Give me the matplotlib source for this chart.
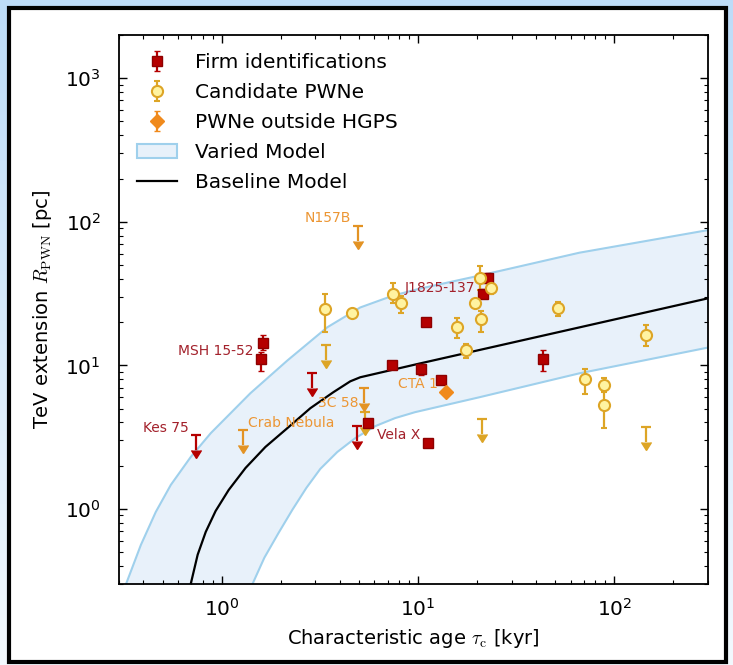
#!/usr/bin/env python3
"""TeV extension of PWNe vs characteristic age, with model band."""

import numpy as np
import matplotlib.pyplot as plt
import matplotlib.lines as mlines
from matplotlib.colors import LinearSegmentedColormap
from matplotlib.patches import Patch, Rectangle

# ---- Data ----
# Firm identifications: age [kyr], radius [pc], lower / upper end of error bar
firm_age = [1.58, 1.63, 5.57, 7.38, 10.4, 11.0, 11.2, 13.1, 21.4, 22.7, 43.1]
firm_r = [11.0, 14.2, 3.96, 10.0, 9.5, 20.2, 2.87, 7.87, 31.6, 40.8, 11.0]
firm_lo = [9.1, 12.7, 3.7, 9.5, 8.5, 19.0, 2.7, 7.4, 29.5, 37.5, 9.2]
firm_hi = [12.3, 16.2, 4.2, 10.6, 10.3, 21.5, 3.05, 8.4, 34.0, 44.0, 12.7]
firm_ul_age = [0.738, 2.90, 4.90]
firm_ul_r = [3.26, 8.8, 3.77]

# Candidate PWNe
cand_age = [3.37, 4.62, 7.46, 8.2, 15.8, 17.5, 19.5, 20.6, 20.9, 23.5, 51.4, 70.5, 89.0, 89.0, 145.0]
cand_r = [24.5, 23.0, 31.6, 27.4, 18.4, 12.7, 27.0, 40.8, 20.9, 34.8, 24.9, 8.0, 7.26, 5.27, 16.4]
cand_lo = [17.0, 22.0, 27.4, 23.3, 15.6, 11.2, 26.0, 33.7, 17.0, 31.5, 21.9, 6.3, 6.5, 3.65, 13.6]
cand_hi = [31.6, 24.0, 37.2, 30.6, 21.2, 14.0, 28.0, 49.3, 24.0, 38.0, 27.8, 9.5, 8.1, 7.0, 19.2]
cand_ul_age = [3.41, 5.38, 21.1, 145.0]
cand_ul_r = [13.8, 4.72, 4.22, 3.71]

# PWNe outside HGPS
out_age = [13.9]
out_r = [6.49]
out_lo = [6.2]
out_hi = [6.8]
out_ul_age = [4.96, 1.28, 5.32]
out_ul_r = [93.8, 3.54, 6.92]

# Model curves
base_age = [0.696, 0.755, 0.830, 0.932, 1.086, 1.324, 1.67, 2.16, 2.83, 3.70, 4.52, 5.08, 10.2, 300.0]
base_r = [0.30, 0.480, 0.692, 0.968, 1.355, 1.93, 2.70, 3.65, 5.03, 6.49, 7.74, 8.26, 10.3, 29.3]
up_age = [0.326, 0.388, 0.462, 0.551, 0.696, 0.880, 1.11, 1.40, 2.16, 3.45, 5.08, 7.46, 10.2, 20.6, 66.4, 300.0]
up_r = [0.30, 0.562, 0.953, 1.47, 2.30, 3.37, 4.64, 6.39, 10.8, 18.4, 25.3, 30.6, 34.2, 42.2, 60.9, 87.5]
low_age = [1.436, 1.65, 1.95, 2.29, 2.70, 3.18, 3.88, 4.79, 6.05, 7.64, 9.66, 20.6, 66.4, 300.0]
low_r = [0.30, 0.457, 0.681, 0.984, 1.40, 1.90, 2.49, 3.11, 3.77, 4.29, 4.72, 6.0, 8.8, 13.3]

# Source labels
labels = ["N157B", "J1825-137", "MSH 15-52", "CTA 1", "3C 58", "Crab Nebula", "Kes 75", "Vela X"]
label_age = [4.57, 8.59, 1.45, 7.91, 4.96, 1.37, 0.68, 6.19]
label_r = [106.0, 34.8, 12.5, 7.38, 5.45, 3.96, 3.65, 3.26]
label_ha = ["right", "left", "right", "left", "right", "left", "right", "left"]
label_firm = [False, True, True, False, False, False, True, True]

# ---- Style ----
plt.rcParams["mathtext.fontset"] = "cm"
c_firm = "#b50000"
c_firm_edge = "#8e0000"
c_firm_txt = "#a3212b"
c_cand_face = "#fff3a1"
c_cand = "#dda526"
c_out = "#f08a1c"
c_out_ul = "#e39324"
c_out_txt = "#ec9634"
c_band = "#e8f1fa"
c_band_edge = "#9fd0ec"

fig = plt.figure(figsize=(7.33, 6.65), dpi=100)

# screenshot-like background and frame
bg = fig.add_axes([0, 0, 1, 1], zorder=0)
bg.axis("off")
grad = np.linspace(0, 1, 256).reshape(-1, 1)
cmap_bg = LinearSegmentedColormap.from_list("bgc", ["#bddcf8", "#f3f9fe"])
bg.imshow(grad, cmap=cmap_bg, aspect="auto", extent=[0, 1, 0, 1], origin="upper")
bg.add_patch(Rectangle((0.012, 0.005), 0.979, 0.983, transform=bg.transAxes,
                       facecolor="white", edgecolor="black", lw=3))
bg.set_xlim(0, 1)
bg.set_ylim(0, 1)

ax = fig.add_axes([0.1623, 0.1218, 0.8036, 0.8256], zorder=1)
ax.set_xscale("log")
ax.set_yscale("log")

# model band
ax.fill(np.concatenate([up_age, low_age[::-1]]), np.concatenate([up_r, low_r[::-1]]),
        facecolor=c_band, edgecolor="none", zorder=1)
ax.plot(up_age, up_r, color=c_band_edge, lw=1.5, zorder=2)
ax.plot(low_age, low_r, color=c_band_edge, lw=1.5, zorder=2)
ax.plot(base_age, base_r, color="black", lw=1.6, zorder=3)


def yerr(y, lo, hi):
    y, lo, hi = map(np.asarray, (y, lo, hi))
    return [y - lo, hi - y]


def upper_limits(x, y, color):
    # vertical bar with a cap at the limit and a down arrow below it
    y = np.asarray(y)
    tip = y / 1.27
    ax.vlines(x, tip, y, color=color, lw=1.6, zorder=4)
    ax.plot(x, y, ls="none", marker="_", ms=7, mew=1.6, color=color, zorder=4)
    ax.plot(x, tip, ls="none", marker=mlines.CARETDOWNBASE, ms=7.5,
            mfc=color, mec=color, zorder=4)


upper_limits(firm_ul_age, firm_ul_r, c_firm)
upper_limits(cand_ul_age, cand_ul_r, c_cand)
upper_limits(out_ul_age, out_ul_r, c_out_ul)

h_firm = ax.errorbar(firm_age, firm_r, yerr=yerr(firm_r, firm_lo, firm_hi), fmt="s",
                     ms=7, mfc=c_firm, mec=c_firm_edge, mew=1, ecolor=c_firm,
                     elinewidth=1.6, capsize=2.2, capthick=1.6, zorder=5)
h_cand = ax.errorbar(cand_age, cand_r, yerr=yerr(cand_r, cand_lo, cand_hi), fmt="o",
                     ms=8, mfc=c_cand_face, mec=c_cand, mew=1.5, ecolor=c_cand,
                     elinewidth=1.6, capsize=2.2, capthick=1.6, zorder=5)
h_out = ax.errorbar(out_age, out_r, yerr=yerr(out_r, out_lo, out_hi), fmt="D",
                    ms=7, mfc=c_out, mec=c_out, mew=1, ecolor=c_out,
                    elinewidth=1.6, capsize=2.2, capthick=1.6, zorder=5)

for txt, lx, ly, ha, firm in zip(labels, label_age, label_r, label_ha, label_firm):
    ax.text(lx, ly, txt, ha=ha, va="center", fontsize=10,
            color=c_firm_txt if firm else c_out_txt, zorder=6)

ax.set_xlim(0.3, 300)
ax.set_ylim(0.3, 2000)

ax.set_xlabel(r"Characteristic age $\tau_{\rm c}$ [kyr]", fontsize=14, labelpad=5)
ax.set_ylabel(r"TeV extension $R_{\rm PWN}$ [pc]", fontsize=14, labelpad=8)
ax.tick_params(which="both", direction="in", top=True, right=True, labelsize=14.5)
ax.tick_params(axis="x", which="both", pad=10)
ax.tick_params(axis="y", which="both", pad=13)
ax.tick_params(which="major", length=6, width=1)
ax.tick_params(which="minor", length=3, width=0.8)
for s in ax.spines.values():
    s.set_linewidth(1.3)

h_band = Patch(facecolor=c_band, edgecolor=c_band_edge, lw=1.5)
h_base, = ax.plot([], [], color="black", lw=1.6)
ax.legend([h_firm, h_cand, h_out, h_band, h_base],
          ["Firm identifications", "Candidate PWNe", "PWNe outside HGPS",
           "Varied Model", "Baseline Model"],
          loc="upper left", frameon=False, fontsize=14.5, numpoints=1,
          labelspacing=0.55, handlelength=2.0, handletextpad=0.9, borderaxespad=0.5)

fig.savefig("out.png", dpi=100, facecolor="white")
plt.close(fig)
